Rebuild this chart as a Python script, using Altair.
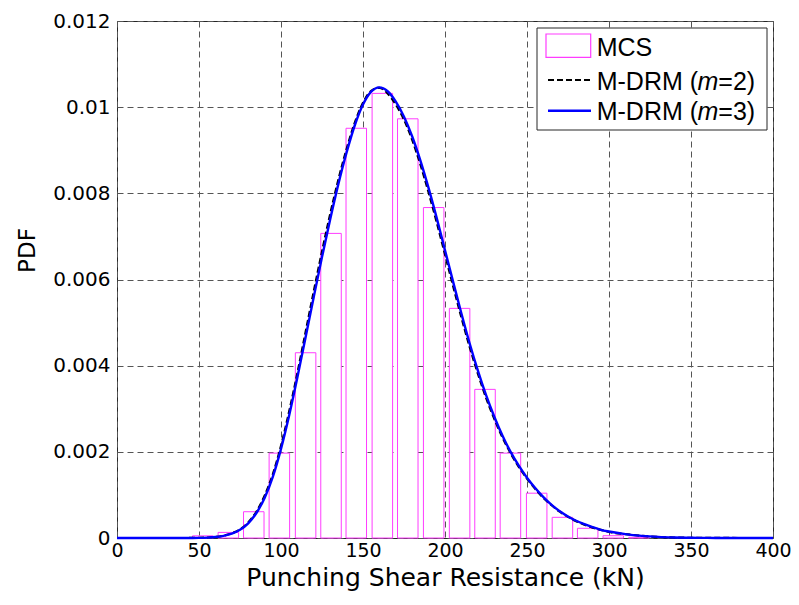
import altair as alt
import pandas as pd

# ---------------- data ----------------
# MCS histogram: bin centres (kN) and PDF heights
bar_centers = [52.3, 67.9, 83.4, 99.0, 115.0, 130.5, 145.9, 161.8, 177.3, 193.1,
               208.9, 224.4, 239.9, 255.9, 271.6, 287.0, 302.6, 318.3]
bar_heights = [0.00005, 0.00013, 0.00061, 0.00197, 0.0043, 0.00707, 0.00951, 0.01032,
               0.00973, 0.00767, 0.00533, 0.00345, 0.00197, 0.00104, 0.00048, 0.000225,
               0.000053, 0.000016]
bar_width = 12.5

# M-DRM curves
curve_x = [0, 30, 40, 45, 50, 55, 60, 65, 70, 75, 80, 85, 90, 95, 100, 105, 110, 115,
           120, 125, 130, 135, 140, 145, 150, 155, 160, 165, 170, 175, 180, 185, 190,
           195, 200, 205, 210, 215, 220, 225, 230, 235, 240, 245, 250, 255, 260, 265,
           270, 275, 280, 285, 290, 295, 300, 310, 320, 330, 340, 350, 360, 370, 400]
m3_y = [0, 0, 0, 0.000001, 0.000003, 0.000009, 0.000022, 0.00005, 0.0001, 0.00019,
        0.00034, 0.00058, 0.00093, 0.00142, 0.00207, 0.00285, 0.00373, 0.00466, 0.0056,
        0.00652, 0.0074, 0.00822, 0.00895, 0.00958, 0.01006, 0.01036, 0.01046, 0.01037,
        0.01013, 0.00978, 0.00932, 0.00876, 0.00812, 0.00742, 0.00668, 0.00594, 0.00521,
        0.00452, 0.00389, 0.00332, 0.00282, 0.00238, 0.002, 0.00168, 0.0014, 0.00116,
        0.00095, 0.00077, 0.00062, 0.0005, 0.0004, 0.00032, 0.00025, 0.00019, 0.00015,
        0.00009, 0.00005, 0.000025, 0.000012, 0.000005, 0.000002, 0.000001, 0]
m2_y = [0, 0, 0, 0.000001, 0.000003, 0.00001, 0.000024, 0.000055, 0.00011, 0.0002,
        0.00036, 0.00061, 0.00098, 0.00148, 0.00214, 0.00294, 0.00383, 0.00478, 0.00573,
        0.00665, 0.00752, 0.00832, 0.00903, 0.00964, 0.0101, 0.01038, 0.01045, 0.01032,
        0.01006, 0.00971, 0.00924, 0.00867, 0.00802, 0.00732, 0.00658, 0.00584, 0.00512,
        0.00444, 0.00382, 0.00326, 0.00277, 0.00234, 0.00197, 0.00165, 0.00138, 0.00114,
        0.00093, 0.00076, 0.00061, 0.00049, 0.00039, 0.00031, 0.00024, 0.00019, 0.00014,
        0.00009, 0.00005, 0.000025, 0.000012, 0.000005, 0.000002, 0.000001, 0]

x_ticks = [0, 50, 100, 150, 200, 250, 300, 350, 400]
y_ticks = [0, 0.002, 0.004, 0.006, 0.008, 0.01, 0.012]

# ---------------- tables ----------------
bars = pd.DataFrame({
    "center": bar_centers,
    "h": bar_heights,
})
bars["lo"] = bars["center"] - bar_width / 2
bars["hi"] = bars["center"] + bar_width / 2

curves = pd.DataFrame({"x": curve_x, "m2": m2_y, "m3": m3_y})
one = pd.DataFrame({"k": [0]})

AX_FONT = "DejaVu Sans"
LEG_FONT = "Liberation Sans"
MAGENTA = "#ff3cff"

x_axis = alt.Axis(values=x_ticks, title="Punching Shear Resistance (kN)", format="d",
                  labelPadding=3, labelFlush=False, labelFontSize=19, titleFontSize=25,
                  titleY=47, titleX=328, titleBaseline="alphabetic", titleAlign="center")
y_axis = alt.Axis(values=y_ticks, title="PDF", format=".3~f", labelPadding=7,
                  labelFlush=False, labelFontSize=20, titleFontSize=23, titleX=-83,
                  titleY=229, titleAngle=270, titleBaseline="alphabetic",
                  titleAlign="center")
x_scale = alt.Scale(domain=[0, 400], nice=False, zero=False)
y_scale = alt.Scale(domain=[0, 0.012], nice=False)

bar_layer = alt.Chart(bars).mark_rect(fill="white", stroke=MAGENTA, strokeWidth=1).encode(
    x=alt.X("lo:Q", scale=x_scale, axis=x_axis),
    x2="hi:Q",
    y=alt.Y("h:Q", scale=y_scale, axis=y_axis),
    y2=alt.datum(0),
)

m2_layer = alt.Chart(curves).mark_line(color="black", strokeWidth=2.2, strokeDash=[6, 3],
                                       interpolate="monotone").encode(
    x=alt.X("x:Q", scale=x_scale, axis=x_axis),
    y=alt.Y("m2:Q", scale=y_scale, axis=y_axis),
)
m3_layer = alt.Chart(curves).mark_line(color="#0000ff", strokeWidth=2.4,
                                       interpolate="monotone").encode(
    x=alt.X("x:Q", scale=x_scale, axis=x_axis),
    y=alt.Y("m3:Q", scale=y_scale, axis=y_axis),
)

# ---------------- legend (pixel layout inside the plot area) ----------------
leg_box = alt.Chart(one).mark_rect(fill="white", stroke="#262626", strokeWidth=1).encode(
    x=alt.value(420), x2=alt.value(650), y=alt.value(7), y2=alt.value(109))
leg_rect = alt.Chart(one).mark_rect(fill="white", stroke=MAGENTA, strokeWidth=1.2).encode(
    x=alt.value(429), x2=alt.value(473.7), y=alt.value(13), y2=alt.value(36.3))
leg_dash = alt.Chart(one).mark_rule(color="black", strokeWidth=2, strokeDash=[6, 3]).encode(
    x=alt.value(431), x2=alt.value(474), y=alt.value(59))
leg_line = alt.Chart(one).mark_rule(color="#0000ff", strokeWidth=2.4).encode(
    x=alt.value(431), x2=alt.value(474), y=alt.value(89.7))


def leg_text(txt, x, y, italic=False):
    return alt.Chart(one).mark_text(text=txt, align="left", baseline="alphabetic",
                                    font=LEG_FONT, fontSize=25, color="black",
                                    fontStyle="italic" if italic else "normal").encode(
        x=alt.value(x), y=alt.value(y))


legend_layers = [
    leg_box, leg_rect, leg_dash, leg_line,
    leg_text("MCS", 479.7, 35),
    leg_text("M-DRM (", 479.7, 69), leg_text("m", 580.5, 69, True), leg_text("=2)", 601.3, 69),
    leg_text("M-DRM (", 479.7, 99), leg_text("m", 580.5, 99, True), leg_text("=3)", 601.3, 99),
]

chart = alt.layer(bar_layer, m2_layer, m3_layer, *legend_layers).properties(
    width=656, height=517,
    autosize=alt.AutoSizeParams(type="none"),
    padding={"left": 109, "top": 13, "right": 18, "bottom": 59},
    background="white",
).configure_view(stroke="#262626", strokeWidth=1).configure_axis(
    domain=False, ticks=False, grid=True, gridDash=[6, 4], gridColor="#555555",
    gridWidth=1, gridOpacity=1,
    labelFont=AX_FONT, labelColor="black",
    titleFont=AX_FONT, titleFontWeight="normal", titleColor="black",
)

chart.save("out.html", embed_options={"renderer": "svg", "actions": False})
